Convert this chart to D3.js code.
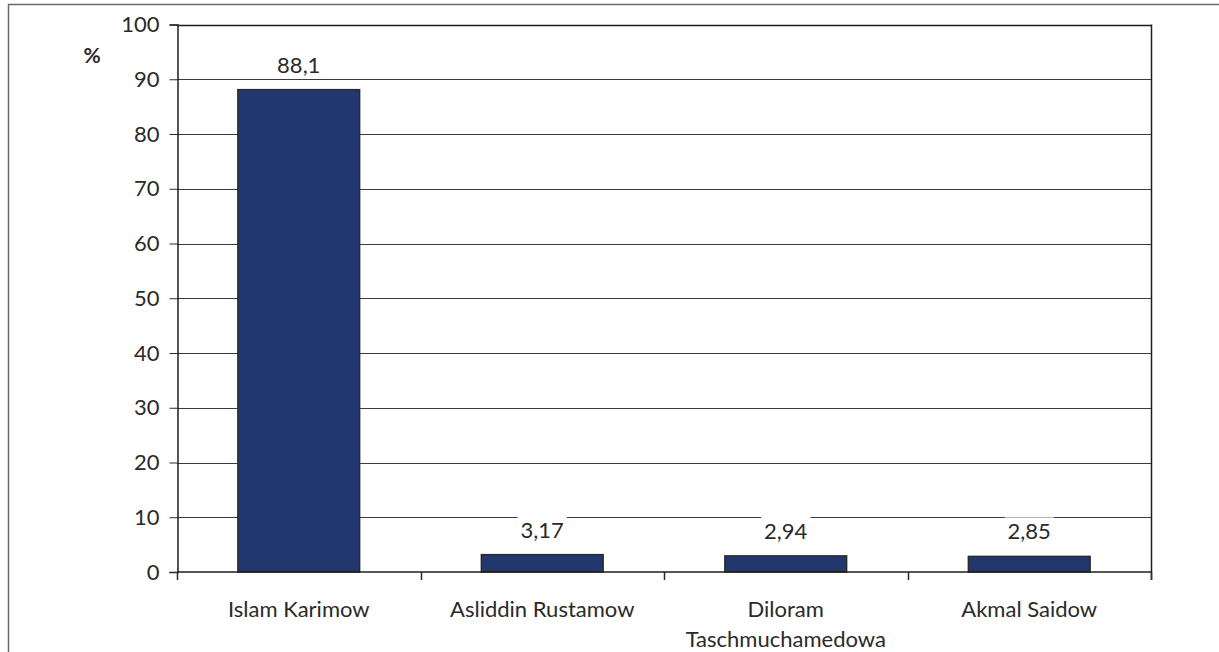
<!DOCTYPE html>
<html>
<head>
<meta charset="utf-8">
<script src="https://cdn.jsdelivr.net/npm/d3@7"></script>
<style>
  body { margin: 0; background: #fff; }
  svg { display: block; font-family: Lato, "Open Sans", sans-serif; }
</style>
</head>
<body>
<svg id="chart"></svg>
<script>
// data
var candidates = ["Islam Karimow", "Asliddin Rustamow", "Diloram Taschmuchamedowa", "Akmal Saidow"];
var candidateLines = [["Islam Karimow"], ["Asliddin Rustamow"], ["Diloram", "Taschmuchamedowa"], ["Akmal Saidow"]];
var shares = [88.1, 3.17, 2.94, 2.85];
var yTicks = [0, 10, 20, 30, 40, 50, 60, 70, 80, 90, 100];

var W = 1219, H = 652;
var plotLeft = 177, plotRight = 1151, plotTop = 24.5, plotBottom = 572;

var svg = d3.select("#chart").attr("width", W).attr("height", H);

// outer frame (only top/left visible)
svg.append("rect")
    .attr("x", 8.5).attr("y", 4.5)
    .attr("width", 3000).attr("height", 3000)
    .attr("fill", "none")
    .attr("stroke", "#6a6a6a")
    .attr("stroke-width", 1.5);

var x = d3.scaleBand().domain(candidates).range([plotLeft, plotRight]).padding(0);
var y = d3.scaleLinear().domain([0, 100]).range([plotBottom, plotTop]);

// gridlines
svg.append("g").selectAll("line")
    .data(yTicks.filter(function(t){ return t > 0; }))
    .enter().append("line")
    .attr("x1", plotLeft).attr("x2", plotRight)
    .attr("y1", function(d){ return Math.round(y(d)) + 0.5; })
    .attr("y2", function(d){ return Math.round(y(d)) + 0.5; })
    .attr("stroke", function(d){ return d == 100 ? "#1e1e1e" : "#3a3a3a"; })
    .attr("stroke-width", function(d){ return d == 100 ? 1.5 : 1; });

// right frame
svg.append("line")
    .attr("x1", plotRight + 0.5).attr("x2", plotRight + 0.5)
    .attr("y1", y(100)).attr("y2", plotBottom + 8)
    .attr("stroke", "#1e1e1e").attr("stroke-width", 1.5);

// y axis
var yAxis = d3.axisLeft(y).tickValues(yTicks).tickSize(8).tickPadding(10);
var gy = svg.append("g").attr("transform", "translate(" + (plotLeft + 0.5) + ",0)").call(yAxis);
gy.select(".domain").attr("stroke", "#1e1e1e").attr("stroke-width", 1.5);
gy.selectAll(".tick line").attr("stroke", "#2a2a2a");
gy.selectAll(".tick text").attr("font-family", "Lato").attr("font-size", 22).attr("fill", "#2a2a2a");

// percent label
svg.append("text")
    .attr("x", 92).attr("y", 63)
    .attr("text-anchor", "middle")
    .attr("font-size", 21).attr("font-weight", "bold")
    .attr("fill", "#2a2a2a")
    .text("%");

// bars
var barW = x.bandwidth() * 0.5;
svg.append("g").selectAll("rect")
    .data(shares)
    .enter().append("rect")
    .attr("x", function(d, i){ return x(candidates[i]) + (x.bandwidth() - barW) / 2; })
    .attr("y", function(d){ return y(d); })
    .attr("width", barW)
    .attr("height", function(d){ return y(0) - y(d); })
    .attr("fill", "#22376d")
    .attr("stroke", "#2b2b2b")
    .attr("stroke-width", 1.5);

// baseline
svg.append("line")
    .attr("x1", plotLeft).attr("x2", plotRight + 1)
    .attr("y1", y(0)).attr("y2", y(0))
    .attr("stroke", "#1e1e1e").attr("stroke-width", 1.5);

// category boundary ticks
var bounds = candidates.map(function(c){ return x(c); }).concat([x(candidates[candidates.length - 1]) + x.bandwidth()]);
svg.append("g").selectAll("line")
    .data(bounds)
    .enter().append("line")
    .attr("x1", function(d){ return Math.round(d) + 0.5; })
    .attr("x2", function(d){ return Math.round(d) + 0.5; })
    .attr("y1", y(0)).attr("y2", y(0) + 8)
    .attr("stroke", "#2a2a2a").attr("stroke-width", 1.5);

// value labels with white backing
var fmt = function(v){ return String(v).replace(".", ","); };
var lab = svg.append("g").selectAll("g")
    .data(shares)
    .enter().append("g");
lab.append("text")
    .attr("x", function(d, i){ return x(candidates[i]) + x.bandwidth() / 2; })
    .attr("y", function(d){ return y(d) - 17; })
    .attr("text-anchor", "middle")
    .attr("font-size", 22)
    .attr("fill", "#2a2a2a")
    .text(fmt);
lab.each(function(){
    var g = d3.select(this);
    var bb = g.select("text").node().getBBox();
    g.insert("rect", "text")
        .attr("x", bb.x - 3).attr("y", bb.y)
        .attr("width", bb.width + 6).attr("height", bb.height)
        .attr("fill", "#fff");
});

// category labels
var cat = svg.append("g").selectAll("text")
    .data(candidateLines)
    .enter().append("text")
    .attr("text-anchor", "middle")
    .attr("font-size", 22)
    .attr("fill", "#2a2a2a");
cat.each(function(lines, i){
    var t = d3.select(this);
    lines.forEach(function(s, k){
        t.append("tspan")
            .attr("x", x(candidates[i]) + x.bandwidth() / 2)
            .attr("y", 617 + k * 29.5)
            .text(s);
    });
});
</script>
</body>
</html>
